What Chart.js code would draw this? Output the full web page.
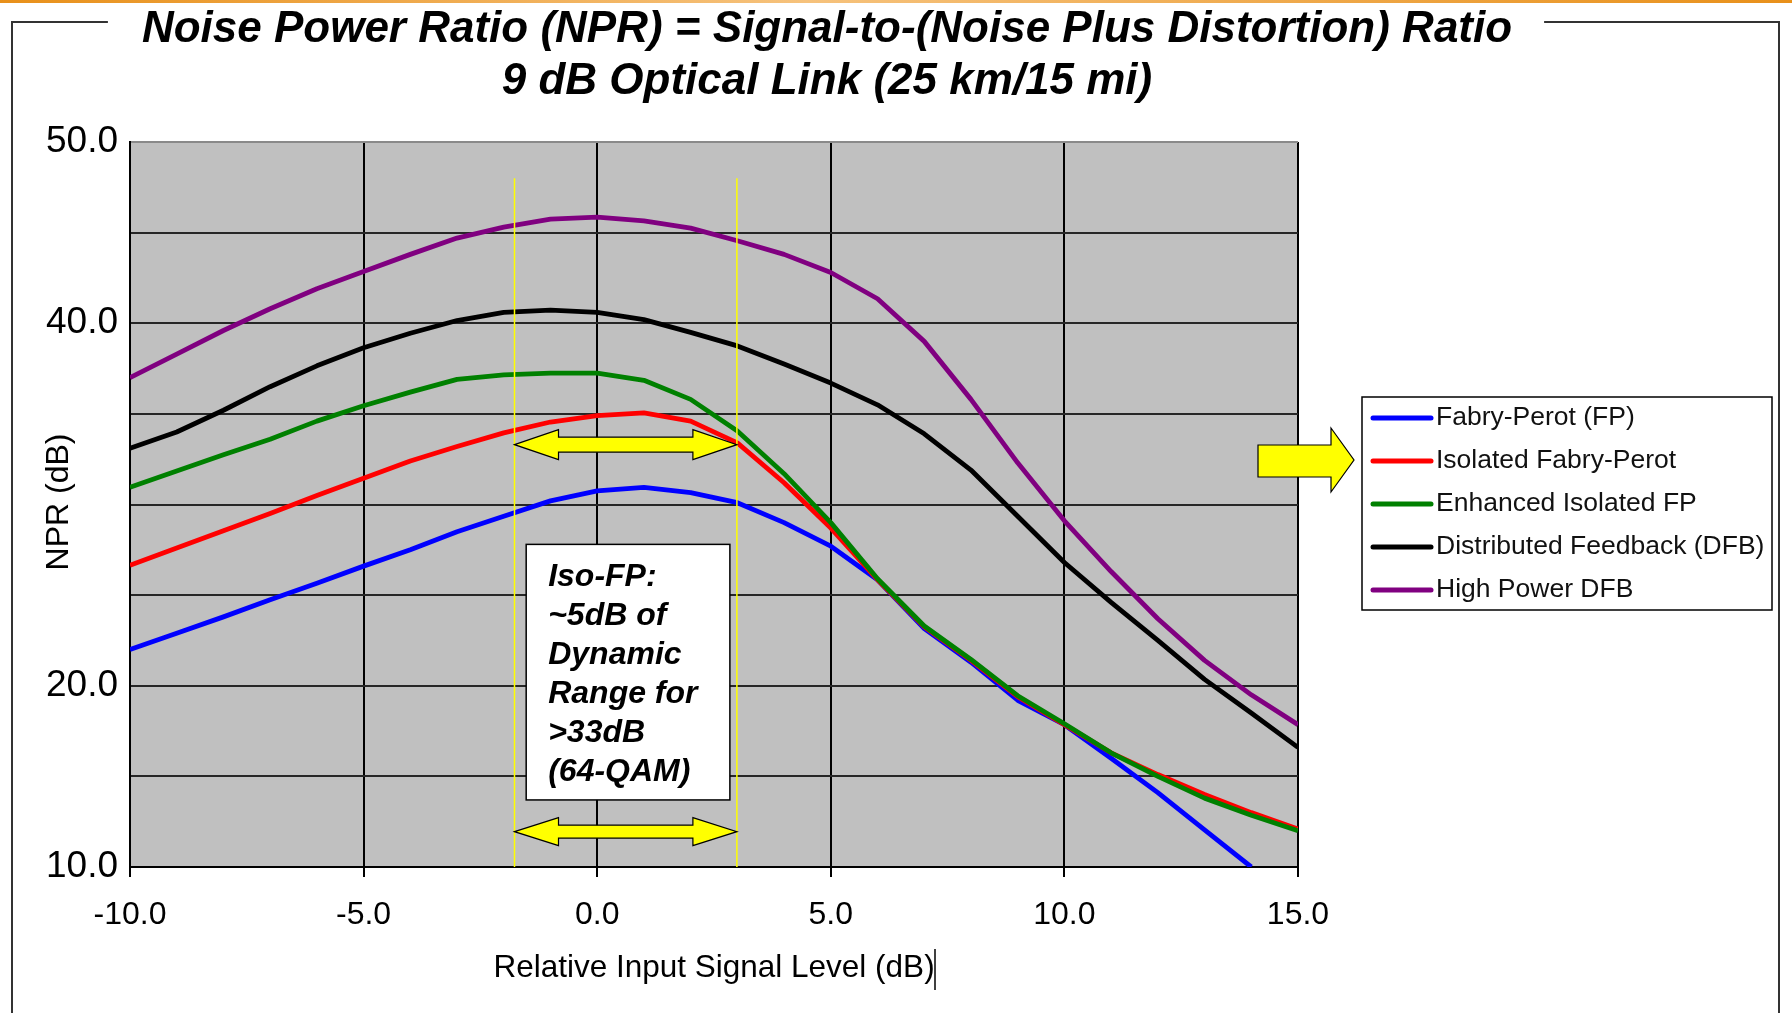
<!DOCTYPE html>
<html>
<head>
<meta charset="utf-8">
<title>NPR - 9 dB Optical Link</title>
<script src="https://cdn.jsdelivr.net/npm/chart.js@4.4.1/dist/chart.umd.min.js"></script>
<style>
    html, body { margin: 0; padding: 0; background: #fff; }
    #nprChart { display: block; }
</style>
</head>
<body>
<canvas id="nprChart" width="1792" height="1013"></canvas>
<script>
// Relative input signal level (dB)
const xValues = [-10, -9, -8, -7, -6, -5, -4, -3, -2, -1, 0, 1, 2, 3, 4, 5, 6, 7, 8, 9, 10, 11, 12, 13, 14, 15];

// NPR (dB) per laser type
const fpValues = [22.0, 22.9, 23.8, 24.75, 25.65, 26.6, 27.5, 28.5, 29.35, 30.2, 30.75, 30.95, 30.65, 30.1, 29.0, 27.7, 25.85, 23.15, 21.3, 19.2, 17.85, 16.0, 14.1, 12.05, 10.0, null];
const isoFpValues = [26.65, 27.6, 28.55, 29.5, 30.5, 31.45, 32.4, 33.2, 33.95, 34.55, 34.9, 35.05, 34.6, 33.4, 31.2, 28.7, 25.85, 23.25, 21.4, 19.4, 17.85, 16.3, 15.1, 14.0, 13.0, 12.1];
const enhIsoFpValues = [30.95, 31.85, 32.75, 33.6, 34.6, 35.45, 36.2, 36.9, 37.15, 37.25, 37.25, 36.85, 35.8, 34.05, 31.7, 29.0, 25.9, 23.3, 21.45, 19.45, 17.9, 16.3, 15.0, 13.8, 12.85, 12.0];
const dfbValues = [33.1, 34.0, 35.2, 36.5, 37.65, 38.65, 39.45, 40.15, 40.6, 40.72, 40.6, 40.2, 39.5, 38.75, 37.75, 36.7, 35.5, 33.9, 31.9, 29.35, 26.8, 24.6, 22.5, 20.35, 18.5, 16.6];
const hpDfbValues = [37.0, 38.3, 39.6, 40.8, 41.9, 42.85, 43.8, 44.7, 45.3, 45.75, 45.85, 45.65, 45.25, 44.55, 43.8, 42.8, 41.35, 39.0, 35.8, 32.3, 29.1, 26.3, 23.7, 21.4, 19.5, 17.85];

const seriesLabels = ['Fabry-Perot (FP)', 'Isolated Fabry-Perot', 'Enhanced Isolated FP', 'Distributed Feedback (DFB)', 'High Power DFB'];
const seriesColors = ['#0000ff', '#ff0000', '#008000', '#000000', '#800080'];

// y tick labels that are printed (30.0 is hidden behind the axis title in the original)
const yLabelValues = [10, 20, 40, 50];

const titleLines = ['Noise Power Ratio (NPR) = Signal-to-(Noise Plus Distortion) Ratio', '9 dB Optical Link (25 km/15 mi)'];
const noteLines = ['Iso-FP:', '~5dB of', 'Dynamic', 'Range for', '>33dB', '(64-QAM)'];

// dynamic range markers, in data units
const rangeMarkers = { left: -1.77, right: 2.99, top: 48, upperArrow: 33.3, lowerArrow: 11.95 };
const noteBox = { x1: -1.52, x2: 2.84, y1: 27.8, y2: 13.7 };

const FONT = "'Liberation Sans', Arial, sans-serif";

function toPoints(values) {
    return xValues.map((x, i) => ({ x: x, y: values[i] }));
}

function drawDoubleArrow(ctx, x1, x2, y, headLen, headHalf, shaftHalf) {
    ctx.beginPath();
    ctx.moveTo(x1, y);
    ctx.lineTo(x1 + headLen, y - headHalf);
    ctx.lineTo(x1 + headLen, y - shaftHalf);
    ctx.lineTo(x2 - headLen, y - shaftHalf);
    ctx.lineTo(x2 - headLen, y - headHalf);
    ctx.lineTo(x2, y);
    ctx.lineTo(x2 - headLen, y + headHalf);
    ctx.lineTo(x2 - headLen, y + shaftHalf);
    ctx.lineTo(x1 + headLen, y + shaftHalf);
    ctx.lineTo(x1 + headLen, y + headHalf);
    ctx.closePath();
    ctx.fillStyle = '#ffff00';
    ctx.fill();
    ctx.strokeStyle = '#000';
    ctx.lineWidth = 1.2;
    ctx.stroke();
}

const decorPlugin = {
    id: 'decor',
    beforeDraw(chart) {
        const { ctx, chartArea: a } = chart;
        ctx.save();
        ctx.fillStyle = '#ffffff';
        ctx.fillRect(0, 0, chart.width, chart.height);
        ctx.fillStyle = '#c0c0c0';
        ctx.fillRect(a.left, a.top, a.right - a.left, a.bottom - a.top);
        ctx.restore();
    },
    afterDatasetsDraw(chart) {
        const { ctx } = chart;
        const xs = chart.scales.x, ys = chart.scales.y;
        const xl = xs.getPixelForValue(rangeMarkers.left);
        const xr = xs.getPixelForValue(rangeMarkers.right);
        ctx.save();

        // thin yellow range lines
        ctx.strokeStyle = '#ffff00';
        ctx.lineWidth = 1.5;
        [xl, xr].forEach(x => {
            ctx.beginPath();
            ctx.moveTo(x, ys.getPixelForValue(rangeMarkers.top));
            ctx.lineTo(x, ys.getPixelForValue(10));
            ctx.stroke();
        });

        drawDoubleArrow(ctx, xl, xr, ys.getPixelForValue(rangeMarkers.upperArrow), 44, 15, 7.5);
        drawDoubleArrow(ctx, xl, xr, ys.getPixelForValue(rangeMarkers.lowerArrow), 44, 14, 6.5);

        // note box
        const bx1 = xs.getPixelForValue(noteBox.x1), bx2 = xs.getPixelForValue(noteBox.x2);
        const by1 = ys.getPixelForValue(noteBox.y1), by2 = ys.getPixelForValue(noteBox.y2);
        ctx.fillStyle = '#fff';
        ctx.fillRect(bx1, by1, bx2 - bx1, by2 - by1);
        ctx.strokeStyle = '#000';
        ctx.lineWidth = 1.5;
        ctx.strokeRect(bx1, by1, bx2 - bx1, by2 - by1);
        ctx.fillStyle = '#000';
        ctx.font = 'italic bold 32px ' + FONT;
        ctx.textAlign = 'left';
        ctx.textBaseline = 'middle';
        noteLines.forEach((line, i) => {
            ctx.fillText(line, bx1 + 22, by1 + 33 + i * 39);
        });
        ctx.restore();
    },
    afterDraw(chart) {
        const { ctx, chartArea: a } = chart;
        ctx.save();

        // orange strip at the very top
        const grad = ctx.createLinearGradient(0, 0, chart.width, 0);
        grad.addColorStop(0, '#e8901a');
        grad.addColorStop(0.45, '#f6c27c');
        grad.addColorStop(1, '#e8901a');
        ctx.fillStyle = grad;
        ctx.fillRect(0, 0, chart.width, 3);

        // title
        ctx.font = 'italic bold 44px ' + FONT;
        ctx.fillStyle = '#000';
        ctx.textAlign = 'center';
        ctx.textBaseline = 'middle';
        const cx = 827;
        ctx.fillText(titleLines[0], cx, 30);
        ctx.fillText(titleLines[1], cx, 82);
        const w = ctx.measureText(titleLines[0]).width;

        // frame around the slide, broken by the title
        ctx.strokeStyle = '#333';
        ctx.lineWidth = 2;
        ctx.beginPath();
        ctx.moveTo(12, chart.height);
        ctx.lineTo(12, 22);
        ctx.lineTo(cx - w / 2 - 34, 22);
        ctx.moveTo(cx + w / 2 + 32, 22);
        ctx.lineTo(1779, 22);
        ctx.lineTo(1779, chart.height);
        ctx.stroke();

        // axis titles
        ctx.font = '31.5px ' + FONT;
        ctx.fillText('Relative Input Signal Level (dB)', (a.left + a.right) / 2, 968);
        ctx.save();
        ctx.translate(59, 502);
        ctx.rotate(-Math.PI / 2);
        ctx.font = '32px ' + FONT;
        ctx.fillText('NPR (dB)', 0, 0);
        ctx.restore();

        // text cursor left behind after the x title
        ctx.strokeStyle = '#000';
        ctx.lineWidth = 1.5;
        ctx.beginPath();
        ctx.moveTo(935, 949);
        ctx.lineTo(935, 990);
        ctx.stroke();

        // yellow arrow pointing at the legend
        ctx.beginPath();
        ctx.moveTo(1258, 445);
        ctx.lineTo(1331, 445);
        ctx.lineTo(1331, 428);
        ctx.lineTo(1354, 460);
        ctx.lineTo(1331, 492);
        ctx.lineTo(1331, 477);
        ctx.lineTo(1258, 477);
        ctx.closePath();
        ctx.fillStyle = '#ffff00';
        ctx.fill();
        ctx.strokeStyle = '#000';
        ctx.lineWidth = 1.2;
        ctx.stroke();

        // legend
        ctx.fillStyle = '#fff';
        ctx.fillRect(1362, 397, 410, 213);
        ctx.strokeStyle = '#000';
        ctx.lineWidth = 1.5;
        ctx.strokeRect(1362, 397, 410, 213);
        ctx.font = '26.5px ' + FONT;
        ctx.textAlign = 'left';
        chart.data.datasets.forEach((ds, i) => {
            const y = 418 + i * 43;
            ctx.strokeStyle = ds.borderColor;
            ctx.lineWidth = 5;
            ctx.lineCap = 'round';
            ctx.beginPath();
            ctx.moveTo(1373, y);
            ctx.lineTo(1431, y);
            ctx.stroke();
            ctx.fillStyle = '#111';
            ctx.fillText(ds.label, 1436, y);
        });
        ctx.restore();
    }
};

// green is drawn on top, then red, then blue
const drawOrder = [2, 1, 0, 3, 4];

function buildChart() {
    const ctx = document.getElementById('nprChart');
    const allValues = [fpValues, isoFpValues, enhIsoFpValues, dfbValues, hpDfbValues];

    new Chart(ctx, {
        type: 'line',
        data: {
            datasets: allValues.map((vals, i) => ({
                label: seriesLabels[i],
                data: toPoints(vals),
                borderColor: seriesColors[i],
                backgroundColor: seriesColors[i],
                borderWidth: 4.8,
                borderJoinStyle: 'round',
                pointRadius: 0,
                tension: 0,
                fill: false,
                order: drawOrder[i]
            }))
        },
        options: {
            responsive: false,
            animation: false,
            devicePixelRatio: 1,
            layout: { padding: { top: 142, right: 494, left: 0, bottom: 0 } },
            plugins: {
                legend: { display: false },
                title: { display: false },
                tooltip: { enabled: false }
            },
            scales: {
                x: {
                    type: 'linear',
                    min: -10,
                    max: 15,
                    afterFit: scale => { scale.height = 146; },
                    ticks: {
                        stepSize: 5,
                        color: '#000',
                        padding: 19,
                        font: { family: FONT, size: 32 },
                        maxRotation: 0,
                        callback: v => v.toFixed(1)
                    },
                    grid: { color: '#000', lineWidth: 2, tickLength: 10 },
                    border: { color: '#000', width: 2 }
                },
                y: {
                    type: 'linear',
                    min: 10,
                    max: 50,
                    afterFit: scale => { scale.width = 130; },
                    ticks: {
                        stepSize: 5,
                        color: '#000',
                        padding: 12,
                        font: { family: FONT, size: 37 },
                        callback: v => yLabelValues.includes(v) ? v.toFixed(1) : ''
                    },
                    grid: {
                        color: c => c.tick && c.tick.value === 50 ? '#8a8a8a' : '#262626',
                        lineWidth: 2,
                        drawTicks: false
                    },
                    border: { color: '#000', width: 2 }
                }
            }
        },
        plugins: [decorPlugin]
    });
}

if (document.readyState === 'loading') {
    document.addEventListener('DOMContentLoaded', buildChart);
} else {
    buildChart();
}
</script>
</body>
</html>
